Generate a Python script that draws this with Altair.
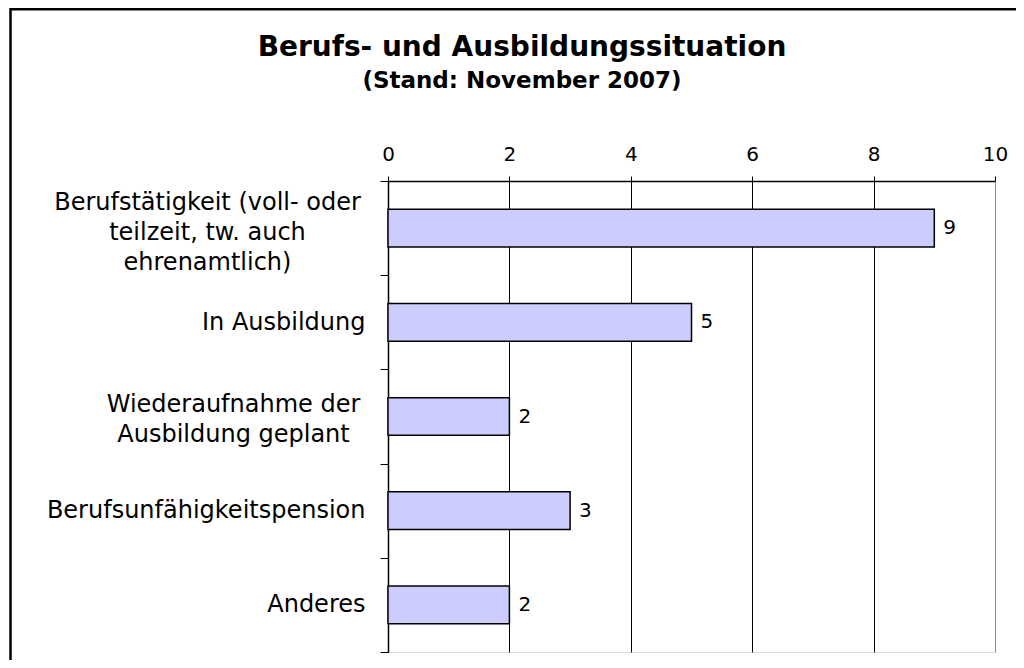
import altair as alt
import pandas as pd

categories = [
    "Berufstätigkeit (voll- oder|teilzeit, tw. auch|ehrenamtlich)",
    "In Ausbildung",
    "Wiederaufnahme der|Ausbildung geplant",
    "Berufsunfähigkeitspension",
    "Anderes",
]
values = [9, 5, 2, 3, 2]
x_ticks = [0, 2, 4, 6, 8, 10]
title_text = "Berufs- und Ausbildungssituation"
subtitle_text = "(Stand: November 2007)"

df = pd.DataFrame({"cat": categories, "val": values})
tdf = pd.DataFrame({"title": [title_text], "subtitle": [subtitle_text]})

W, H = 607, 471
FONT = "DejaVu Sans"

y_enc = alt.Y(
    "cat:N",
    sort=None,
    title=None,
    scale=alt.Scale(paddingInner=0, paddingOuter=0),
    axis=alt.Axis(
        tickBand="extent",
        tickSize=8,
        tickColor="black",
        tickWidth=1,
        domainColor="black",
        domainWidth=1.5,
        labelFont=FONT,
        labelFontSize=24,
        labelColor="black",
        labelLineHeight=30,
        labelBaseline="middle",
        labelExpr="split(datum.label, '|')",
        labelAlign={"condition": {"test": "indexof(datum.label, '|') >= 0", "value": "center"}, "value": "right"},
        labelPadding={
            "condition": [
                {"test": "datum.label == '%s'" % categories[0], "value": 173},
                {"test": "datum.label == '%s'" % categories[2], "value": 147},
            ],
            "value": 15,
        },
        labelOffset={
            "condition": [
                {"test": "datum.label == '%s'" % categories[0], "value": -26},
                {"test": "datum.label == '%s'" % categories[2], "value": -12},
            ],
            "value": 0,
        },
        labelLimit=400,
    ),
)

x_enc = alt.X(
    "val:Q",
    title=None,
    scale=alt.Scale(domain=[0, 10], nice=False),
    axis=alt.Axis(
        orient="top",
        values=x_ticks,
        format="d",
        tickSize=5,
        tickColor="black",
        domainColor="black",
        domainWidth=1.5,
        grid=True,
        gridColor={"condition": {"test": "datum.value == 10", "value": "#888888"}, "value": "black"},
        gridWidth=1,
        labelFont=FONT,
        labelFontSize=20,
        labelColor="black",
        labelPadding=12,
        labelFlush=False,
    ),
)

bars = alt.Chart(df).mark_bar(
    color="#CCCCFF", stroke="black", strokeWidth=1.5, height={"band": 0.4}
).encode(x=x_enc, y=y_enc)

text = alt.Chart(df).mark_text(
    align="left", baseline="middle", dx=9, font=FONT, fontSize=20, color="black"
).encode(x="val:Q", y=alt.Y("cat:N", sort=None), text="val:Q")

frame = alt.Chart(tdf).mark_rect(
    fill=None, fillOpacity=0, stroke="black", strokeWidth=2.5
).encode(
    x=alt.value(-377.5), y=alt.value(-171.75), x2=alt.value(800), y2=alt.value(700)
)

title = alt.Chart(tdf).mark_text(
    align="center", baseline="alphabetic", font=FONT, fontSize=28, fontWeight="bold", color="black"
).encode(x=alt.value(134), y=alt.value(-125), text="title:N")

subtitle = alt.Chart(tdf).mark_text(
    align="center", baseline="alphabetic", font=FONT, fontSize=23, fontWeight="bold", color="black"
).encode(x=alt.value(134), y=alt.value(-93), text="subtitle:N")

chart = alt.layer(bars, text, frame, title, subtitle).properties(
    width=W,
    height=H,
    autosize=alt.AutoSizeParams(type="none"),
    padding={"left": 380, "top": 173, "right": 21, "bottom": 8},
).configure_view(stroke="#888888", strokeWidth=2).configure(background="white")

chart.save("out.html", embed_options={"renderer": "svg", "actions": False})
